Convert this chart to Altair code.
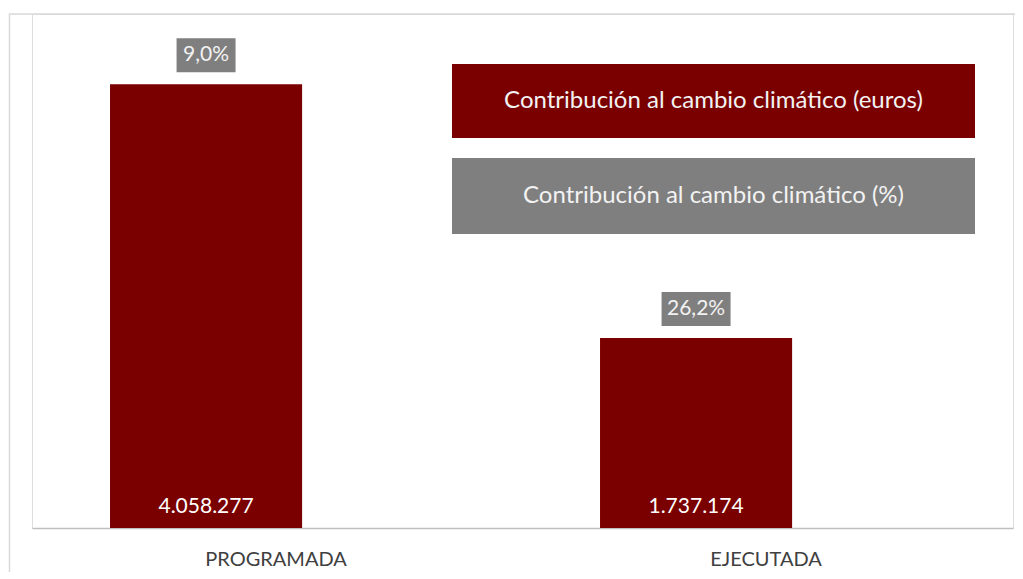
import altair as alt
import pandas as pd

# ---- data ----
categories = ["PROGRAMADA", "EJECUTADA"]
euros = [4058277, 1737174]
pct = [9.0, 26.2]
legend_labels = [
    "Contribución al cambio climático (euros)",
    "Contribución al cambio climático (%)",
]

RED = "#7A0000"
GRAY = "#7F7F7F"
FONT = "Lato"

df = pd.DataFrame({
    "cat": categories,
    "euros": euros,
    "pct": pct,
})
df["euro_label"] = [f"{v:,}".replace(",", ".") for v in euros]
df["pct_label"] = [f"{p:.1f}".replace(".", ",") + "%" for p in pct]

legend_df = pd.DataFrame({"serie": legend_labels})
border_df = pd.DataFrame({"k": [0]})

xscale = alt.Scale(paddingInner=0.608, paddingOuter=0.305, align=0.261)
yscale = alt.Scale(domain=[0, 4700000], nice=False, zero=True)

x_enc = alt.X(
    "cat:N",
    sort=categories,
    scale=xscale,
    axis=alt.Axis(
        title=None, labelAngle=0, ticks=False, grid=False,
        domainColor="#BFBFBF", domainWidth=1.5,
        labelFont=FONT, labelFontSize=20, labelColor="#404040",
        labelPadding=21, labelOffset=70,
    ),
)
x_plain = alt.X("cat:N", sort=categories, scale=xscale)

base = alt.Chart(df)

bars = base.mark_bar(color=RED).encode(
    x=x_enc,
    y=alt.Y("euros:Q", scale=yscale, axis=None),
)

value_text = base.mark_text(
    color="#FFFFFF", font=FONT, fontSize=21, baseline="alphabetic", dy=-15
).encode(
    x=x_plain,
    y=alt.YDatum(0, scale=yscale),
    text="euro_label:N",
)

pct_boxes = base.transform_calculate(
    boxw="length(datum.pct_label) * 10 + 19"
).mark_bar(color=GRAY, yOffset=-12, y2Offset=-46).encode(
    x=x_plain,
    y=alt.Y("euros:Q", scale=yscale),
    y2=alt.Y2("euros"),
    size=alt.Size("boxw:Q", scale=None, legend=None),
)

pct_text = base.mark_text(
    color="#F2F2F2", font=FONT, fontSize=21, baseline="middle", dy=-29
).encode(
    x=x_plain,
    y=alt.Y("euros:Q", scale=yscale),
    text="pct_label:N",
)

color_scale = alt.Scale(domain=legend_labels, range=[RED, GRAY])
legend_pos = [(50, 124, 87), (144, 220, 182)]
legend_layers = []
for lab, (y0, y1, yt) in zip(legend_labels, legend_pos):
    lb = alt.Chart(legend_df).transform_filter(alt.datum.serie == lab)
    legend_layers.append(
        lb.mark_rect().encode(
            x=alt.value(420), x2=alt.value(943),
            y=alt.value(y0), y2=alt.value(y1),
            color=alt.Color("serie:N", scale=color_scale, legend=None),
        )
    )
    legend_layers.append(
        lb.mark_text(color="#F2F2F2", font=FONT, fontSize=24, baseline="middle").encode(
            x=alt.value(681.5), y=alt.value(yt), text="serie:N"
        )
    )

border = alt.Chart(border_df).mark_rect(
    fillOpacity=0, stroke="#D9D9D9", strokeWidth=1.5
).encode(
    x=alt.value(-22.5), x2=alt.value(1200), y=alt.value(0), y2=alt.value(900)
)

chart = alt.layer(
    border, bars, value_text, pct_boxes, pct_text, *legend_layers
).properties(
    width=981,
    height=514,
    autosize=alt.AutoSizeParams(type="none"),
    padding={"left": 24, "top": 6, "right": 2, "bottom": 44},
).configure_view(stroke=None).configure(font=FONT)

chart.save("out.html", embed_options={"renderer": "svg", "actions": False})
